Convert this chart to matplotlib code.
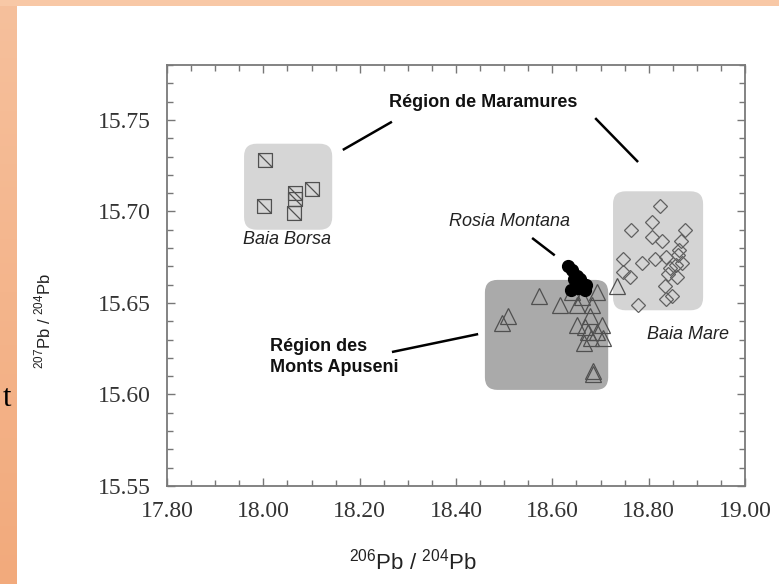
import numpy as np
import matplotlib
matplotlib.use('Agg')
import matplotlib.pyplot as plt
from matplotlib import font_manager
from matplotlib.patches import FancyBboxPatch, Rectangle
from matplotlib.path import Path
from matplotlib.colors import LinearSegmentedColormap

# fonts
names = {f.name for f in font_manager.fontManager.ttflist}
narrow = 'Liberation Sans Narrow' if 'Liberation Sans Narrow' in names else 'Liberation Sans'
serif = 'Liberation Serif'
plt.rcParams['mathtext.fontset'] = 'custom'
plt.rcParams['mathtext.rm'] = narrow

# data: Baia Borsa (squares)
borsa_x = [18.003, 18.001, 18.066, 18.066, 18.064, 18.101]
borsa_y = [15.728, 15.703, 15.710, 15.707, 15.699, 15.712]

# Baia Mare (diamonds)
mare_x = [18.824, 18.806, 18.763, 18.875, 18.806, 18.827, 18.868, 18.863, 18.747, 18.786,
          18.813, 18.837, 18.861, 18.747, 18.761, 18.844, 18.857, 18.841, 18.858, 18.834,
          18.848, 18.778, 18.837, 18.869]
mare_y = [15.703, 15.694, 15.690, 15.690, 15.686, 15.684, 15.684, 15.679, 15.674, 15.672,
          15.674, 15.675, 15.676, 15.667, 15.664, 15.669, 15.671, 15.666, 15.664, 15.659,
          15.654, 15.649, 15.652, 15.672]

# Monts Apuseni (triangles)
apuseni_x = [18.572, 18.508, 18.495, 18.616, 18.651, 18.682, 18.693, 18.734, 18.678, 18.668,
             18.651, 18.703, 18.674, 18.693, 18.705, 18.666, 18.684, 18.684, 18.641, 18.662,
             18.680]
apuseni_y = [15.654, 15.643, 15.639, 15.649, 15.649, 15.649, 15.656, 15.659, 15.643, 15.637,
             15.638, 15.638, 15.634, 15.634, 15.631, 15.628, 15.613, 15.611, 15.656, 15.653,
             15.631]

# Rosia Montana (filled circles)
rosia_x = [18.632, 18.641, 18.651, 18.657, 18.662, 18.653, 18.639, 18.670, 18.668, 18.645]
rosia_y = [15.670, 15.668, 15.665, 15.663, 15.660, 15.658, 15.657, 15.660, 15.657, 15.663]

# shaded fields: x0, y0, x1, y1
box_borsa = [17.96, 15.690, 18.143, 15.737]
box_mare = [18.726, 15.646, 18.913, 15.711]
box_apuseni = [18.460, 15.6025, 18.716, 15.6626]

xticks = [17.80, 18.00, 18.20, 18.40, 18.60, 18.80, 19.00]
yticks = [15.55, 15.60, 15.65, 15.70, 15.75]

fig = plt.figure(figsize=(7.79, 5.84), dpi=100)
fig.patch.set_facecolor('white')

# peach frame of the slide
cmap = LinearSegmentedColormap.from_list('peach', ['#f6c09c', '#f2aa7c'])
bg = fig.add_axes([0, 0, 17/779, 1])
bg.imshow(np.linspace(0, 1, 100).reshape(-1, 1), aspect='auto', cmap=cmap)
bg.axis('off')
fig.patches.append(Rectangle((0, 1 - 6/584), 1, 6/584, transform=fig.transFigure,
                             facecolor='#f8c8a6', edgecolor='none'))
fig.text(11/779, 1 - 398/584, 't', family=serif, fontsize=22, ha='right', va='center')

ax = fig.add_axes([167/779, 1 - 486/584, 578/779, 421/584])
ax.set_xlim(17.80, 19.00)
ax.set_ylim(15.55, 15.78)

xr = 481.7 / 1830.0
for b, c in [(box_borsa, '#d6d6d6'), (box_mare, '#d4d4d4'), (box_apuseni, '#aaaaaa')]:
    p = FancyBboxPatch((b[0], b[1]), b[2] - b[0], b[3] - b[1],
                       boxstyle='round,pad=0,rounding_size=0.026', mutation_aspect=xr,
                       facecolor=c, edgecolor='none', zorder=1)
    ax.add_patch(p)

sq = Path([(-1, -1), (1, -1), (1, 1), (-1, 1), (-1, -1), (-1, 1), (1, -1)],
          [Path.MOVETO, Path.LINETO, Path.LINETO, Path.LINETO, Path.CLOSEPOLY,
           Path.MOVETO, Path.LINETO])
ax.plot(borsa_x, borsa_y, ls='none', marker=sq, ms=10, mfc='none', mec='#505050', mew=0.9, zorder=3)
ax.plot(mare_x, mare_y, ls='none', marker='D', ms=7.5, mfc='none', mec='#606060', mew=0.9, zorder=3)
ax.plot(apuseni_x, apuseni_y, ls='none', marker='^', ms=11, mfc='none', mec='#505050', mew=0.9, zorder=3)
ax.plot(rosia_x, rosia_y, ls='none', marker='o', ms=8.5, mfc='black', mec='black', zorder=4)

# labels and leader lines
bold = dict(family=narrow, fontsize=13, fontweight='bold', color='#111111')
ital = dict(family=narrow, fontsize=13, fontstyle='italic', color='#222222')
ax.text(18.456, 15.7593, 'Région de Maramures', ha='center', va='center', **bold)
ax.text(18.014, 15.6205, 'Région des\nMonts Apuseni', ha='left', va='center', linespacing=1.35, **bold)
ax.text(18.512, 15.6943, 'Rosia Montana', ha='center', va='center', **ital)
ax.text(18.050, 15.6844, 'Baia Borsa', ha='center', va='center', **ital)
ax.text(18.882, 15.6330, 'Baia Mare', ha='center', va='center', **ital)

leaders = [((18.165, 15.7336), (18.267, 15.749)),
           ((18.689, 15.751), (18.778, 15.727)),
           ((18.558, 15.6855), (18.605, 15.676)),
           ((18.267, 15.6232), (18.446, 15.633))]
for a, b in leaders:
    ax.plot([a[0], b[0]], [a[1], b[1]], color='black', lw=1.8, solid_capstyle='butt', zorder=5)

# axes styling
ax.set_xticks(xticks)
ax.set_yticks(yticks)
ax.set_xticks(np.arange(17.80, 19.001, 0.05), minor=True)
ax.set_yticks(np.arange(15.55, 15.781, 0.01), minor=True)
ax.set_xticklabels(['%.2f' % v for v in xticks])
ax.set_yticklabels(['%.2f' % v for v in yticks])
ax.tick_params(which='both', direction='in', top=True, right=True, color='#777777', width=1.0)
ax.tick_params(which='major', length=6)
ax.tick_params(which='minor', length=4)
ax.tick_params(axis='x', pad=11)
ax.tick_params(axis='y', pad=12)
for lab in ax.get_xticklabels() + ax.get_yticklabels():
    lab.set_family(serif)
    lab.set_fontsize(17)
    lab.set_color('#333333')
for s in ax.spines.values():
    s.set_color('#7a7a7a')
    s.set_linewidth(1.3)

ax.set_xlabel(r'$^{206}$Pb / $^{204}$Pb', family=narrow, fontsize=16, color='#222222')
ax.xaxis.set_label_coords(0.426, -0.148)
ax.set_ylabel(r'$^{207}$Pb / $^{204}$Pb', family=narrow, fontsize=12, color='#222222')
ax.yaxis.set_label_coords(-0.197, 0.392)

fig.savefig('out.png', dpi=100)
